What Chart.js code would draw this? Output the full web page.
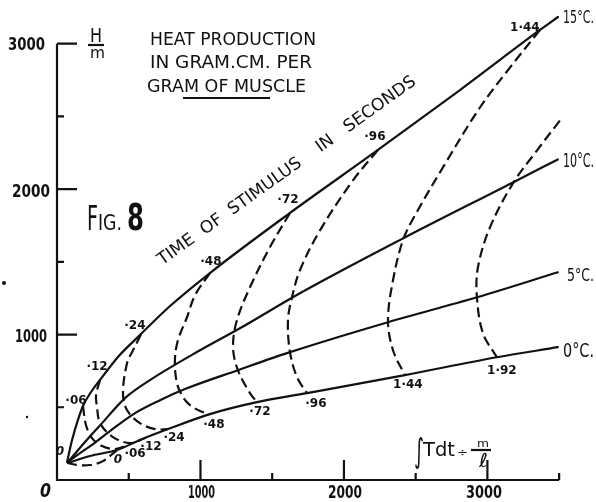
<!DOCTYPE html>
<html>
<head>
<meta charset="utf-8">
<script src="https://cdn.jsdelivr.net/npm/chart.js@4.4.1/dist/chart.umd.min.js"></script>
<style>
html, body { margin: 0; padding: 0; background: #fff; }
canvas { display: block; }
</style>
</head>
<body>
<canvas id="fig8" width="596" height="502"></canvas>
<script>
// x = ∫T dt ÷ m/l , y = H/m (gram.cm per gram of muscle)
var c15X = [70, 105, 146, 181, 237, 300, 425, 565, 788, 1066, 1624, 2237, 2809, 3366, 3492];
var c15Y = [124, 275, 413, 509, 605, 688, 846, 984, 1196, 1423, 1836, 2269, 2681, 3094, 3183];
var c10X = [77, 195, 314, 474, 648, 997, 1275, 1693, 2411, 3178, 3491];
var c10Y = [124, 261, 391, 563, 687, 892, 1043, 1284, 1661, 2046, 2204];
var c5X = [77, 160, 251, 369, 544, 718, 892, 1261, 1624, 2307, 2927, 3491];
var c5Y = [124, 185, 247, 336, 460, 549, 625, 755, 879, 1085, 1256, 1428];
var c0X = [77, 230, 418, 578, 774, 1066, 1394, 1742, 2425, 3066, 3491];
var c0Y = [117, 165, 206, 275, 350, 453, 535, 597, 721, 844, 913];

// dashed lines of equal stimulus time (seconds)
var t000X = [70, 146, 230, 321, 418];
var t000Y = [117, 103, 103, 130, 206];
var t006X = [181, 202, 244, 314, 404, 495];
var t006Y = [509, 378, 288, 233, 213, 239];
var t012X = [300, 272, 279, 300, 390, 509, 620];
var t012Y = [688, 584, 501, 391, 295, 254, 290];
var t024X = [585, 530, 488, 460, 488, 578, 683, 774];
var t024Y = [1000, 892, 803, 597, 481, 391, 350, 350];
var t048X = [1066, 962, 906, 843, 822, 836, 878, 927, 997, 1066];
var t048Y = [1423, 1270, 1119, 961, 824, 666, 570, 515, 474, 453];
var t072X = [1624, 1484, 1345, 1254, 1227, 1261, 1345, 1394];
var t072Y = [1836, 1600, 1325, 1098, 913, 755, 597, 535];
var t096X = [2237, 2063, 1833, 1693, 1638, 1610, 1624, 1673, 1742];
var t096Y = [2269, 2060, 1716, 1442, 1256, 1098, 879, 707, 597];
var t144X = [3366, 3157, 2948, 2690, 2495, 2411, 2342, 2307, 2342, 2425];
var t144Y = [3094, 2835, 2561, 2149, 1819, 1648, 1373, 1098, 892, 721];
var t192X = [3505, 3345, 3178, 3018, 2934, 2927, 2969, 3066];
var t192Y = [2471, 2265, 2039, 1737, 1462, 1256, 1009, 844];

var temps = ['15°C.', '10°C.', '5°C.', '0°C.'];
var times = ['0', '·06', '·12', '·24', '·48', '·72', '·96', '1·44', '1·92'];

var xMajor = [1000, 2000, 3000];
var xMinor = [500, 1500, 2500, 3500];
var yMajor = [1000, 2000, 3000];
var yMinor = [500, 1500, 2500];

function pts(xs, ys) {
    var out = [];
    for (var i = 0; i < xs.length; i++) out.push({x: xs[i], y: ys[i]});
    return out;
}

var ink = '#111';
var solids = [[c15X, c15Y], [c10X, c10Y], [c5X, c5Y], [c0X, c0Y]];
var dashes = [[t000X, t000Y], [t006X, t006Y], [t012X, t012Y], [t024X, t024Y], [t048X, t048Y],
              [t072X, t072Y], [t096X, t096Y], [t144X, t144Y], [t192X, t192Y]];

var datasets = [];
solids.forEach(function (c) {
    datasets.push({data: pts(c[0], c[1]), showLine: true, borderColor: ink, borderWidth: 2.2,
                   cubicInterpolationMode: 'monotone', pointRadius: 0, fill: false, borderCapStyle: 'round'});
});
dashes.forEach(function (c) {
    datasets.push({data: pts(c[0], c[1]), showLine: true, borderColor: ink, borderWidth: 2.2,
                   borderDash: [10, 5], tension: 0.35, pointRadius: 0, fill: false});
});

// label offsets in px from the end points of the dashed lines
var top15Off = [[-7, -11], [-7, -5], [-3, -13], [-6, -9], [1, -11], [-2, -13], [-3, -13], [-15, -2], null];
var bot0Off = [[1, 10], [7, 9], [5, 9], [6, 9], [4, 11], [3, 10], [9, 11], [3, 10], [5, 14]];

var FONT = '"DejaVu Sans", sans-serif';

// text in a box: left, right, baseline, cap height
function put(ctx, s, left, right, base, cap, style) {
    ctx.font = (style ? style + ' ' : '') + (cap / 0.73).toFixed(1) + 'px ' + FONT;
    var w = ctx.measureText(s).width;
    ctx.save();
    ctx.translate(left, base);
    ctx.scale((right - left) / w, 1);
    ctx.textAlign = 'left';
    ctx.textBaseline = 'alphabetic';
    ctx.fillText(s, 0, 0);
    ctx.restore();
}

var fig8Plugin = {
    id: 'fig8',
    beforeDraw: function (chart) {
        var ctx = chart.ctx;
        ctx.save();
        ctx.fillStyle = '#fff';
        ctx.fillRect(0, 0, chart.width, chart.height);
        ctx.restore();
    },
    afterDraw: function (chart) {
        var ctx = chart.ctx, sx = chart.scales.x, sy = chart.scales.y;
        var x0 = sx.getPixelForValue(0), y0 = sy.getPixelForValue(0);
        ctx.save();
        ctx.strokeStyle = ink;
        ctx.fillStyle = ink;
        ctx.lineWidth = 2.2;

        // axes
        ctx.beginPath();
        ctx.moveTo(x0, sy.getPixelForValue(3000));
        ctx.lineTo(x0, y0);
        ctx.lineTo(sx.getPixelForValue(3500), y0);
        yMajor.forEach(function (v) { var p = sy.getPixelForValue(v); ctx.moveTo(x0, p); ctx.lineTo(x0 + 20, p); });
        yMinor.forEach(function (v) { var p = sy.getPixelForValue(v); ctx.moveTo(x0, p); ctx.lineTo(x0 + 7, p); });
        xMajor.forEach(function (v) { var p = sx.getPixelForValue(v); ctx.moveTo(p, y0); ctx.lineTo(p, y0 - 20); });
        xMinor.forEach(function (v) { var p = sx.getPixelForValue(v); ctx.moveTo(p, y0); ctx.lineTo(p, y0 - 7); });
        ctx.stroke();

        // tick labels
        put(ctx, '3000', 8, 45, 50, 13, 'bold');
        put(ctx, '2000', 12, 50, 197, 12.5, 'bold');
        put(ctx, '1000', 15, 47, 342, 13, 'bold');
        put(ctx, '1000', 188, 215, 498, 13, 'bold');
        put(ctx, '2000', 328, 362, 498, 13, 'bold');
        put(ctx, '3000', 466, 502, 498, 13, 'bold');
        put(ctx, '0', 40, 51, 497, 14, 'italic bold');

        // H / m
        put(ctx, 'H', 90, 102, 42, 14);
        put(ctx, 'm', 90, 105, 58, 11);
        ctx.beginPath(); ctx.moveTo(88, 45); ctx.lineTo(104, 45); ctx.stroke();

        // title
        put(ctx, 'HEAT PRODUCTION', 150, 316, 45, 13);
        put(ctx, 'IN GRAM.CM. PER', 150, 312, 68, 13);
        put(ctx, 'GRAM OF MUSCLE', 147, 306, 92, 13);
        ctx.beginPath(); ctx.moveTo(183, 98); ctx.lineTo(270, 98); ctx.stroke();

        // FIG.8
        put(ctx, 'F', 87, 98, 230, 25);
        put(ctx, 'IG.', 98, 122, 230, 16);
        put(ctx, '8', 127, 144, 230, 27, 'bold');

        // temperature labels
        put(ctx, temps[0], 563, 594, 23, 13);
        put(ctx, temps[1], 563, 594, 167, 14);
        put(ctx, temps[2], 567, 594, 281, 13);
        put(ctx, temps[3], 563, 594, 357, 14);

        // TIME OF STIMULUS IN SECONDS
        ctx.save();
        ctx.translate(287, 171);
        ctx.rotate(-35.5 * Math.PI / 180);
        ctx.font = '17px ' + FONT;
        var s = 'TIME  OF  STIMULUS    IN   SECONDS';
        var w = ctx.measureText(s).width;
        ctx.scale(313 / w, 1);
        ctx.textAlign = 'center';
        ctx.textBaseline = 'middle';
        ctx.fillText(s, 0, 0);
        ctx.restore();

        // time labels on the 15°C and 0°C curves
        ctx.textAlign = 'center';
        ctx.textBaseline = 'middle';
        dashes.forEach(function (c, i) {
            var n = c[0].length;
            ctx.font = (i === 0 ? 'italic ' : '') + 'bold 12px ' + FONT;
            var o = top15Off[i];
            if (o) {
                ctx.fillText(times[i], sx.getPixelForValue(c[0][0]) + o[0], sy.getPixelForValue(c[1][0]) + o[1]);
            }
            o = bot0Off[i];
            ctx.fillText(times[i], sx.getPixelForValue(c[0][n - 1]) + o[0], sy.getPixelForValue(c[1][n - 1]) + o[1]);
        });

        // ∫Tdt ÷ m/l
        put(ctx, '∫', 414, 424, 462, 24);
        put(ctx, 'Tdt', 423, 455, 456, 14);
        put(ctx, '÷', 457, 468, 456, 8);
        put(ctx, 'm', 477, 489, 447, 8);
        put(ctx, 'ℓ', 479, 488, 467, 14);
        ctx.beginPath(); ctx.moveTo(471, 450); ctx.lineTo(491, 450); ctx.stroke();

        // specks on the scan
        ctx.beginPath(); ctx.arc(4, 283, 2, 0, Math.PI * 2); ctx.fill();
        ctx.beginPath(); ctx.arc(27, 417, 1.2, 0, Math.PI * 2); ctx.fill();
        ctx.restore();
    }
};

new Chart(document.getElementById('fig8'), {
    type: 'scatter',
    data: {datasets: datasets},
    options: {
        responsive: false,
        animation: false,
        layout: {padding: {left: 57, right: 1, top: 0, bottom: 22}},
        scales: {
            x: {type: 'linear', min: 0, max: 3750, display: false},
            y: {type: 'linear', min: 0, max: 3300, display: false}
        },
        plugins: {legend: {display: false}, tooltip: {enabled: false}},
        elements: {point: {radius: 0}}
    },
    plugins: [fig8Plugin]
});
</script>
</body>
</html>
